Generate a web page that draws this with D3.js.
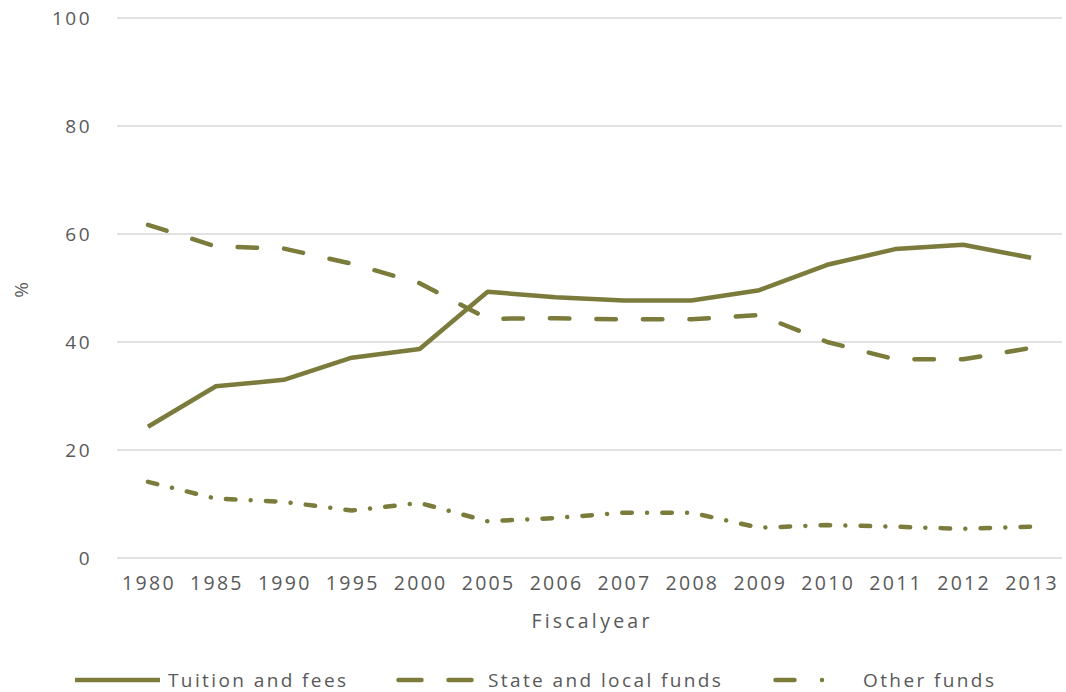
<!DOCTYPE html>
<html>
<head>
<meta charset="utf-8">
<script src="https://cdn.jsdelivr.net/npm/d3@7"></script>
<style>
  body { margin: 0; background: #fff; }
  text { font-family: "Open Sans", sans-serif; fill: #595959; }
</style>
</head>
<body>
<div id="chart"></div>
<script>
// fiscal years and share of revenue (%)
var years = ["1980","1985","1990","1995","2000","2005","2006","2007","2008","2009","2010","2011","2012","2013"];
var tuition = [24.3, 31.8, 33.0, 37.1, 38.7, 49.3, 48.3, 47.7, 47.7, 49.6, 54.3, 57.2, 58.0, 55.6];
var stateLocal = [61.7, 57.7, 57.3, 54.5, 50.9, 44.3, 44.4, 44.2, 44.2, 45.0, 40.0, 36.8, 36.8, 38.9];
var otherFunds = [14.1, 11.0, 10.4, 8.8, 10.2, 6.8, 7.4, 8.4, 8.4, 5.6, 6.1, 5.8, 5.4, 5.8];
var seriesNames = ["Tuition and fees", "State and local funds", "Other funds"];
var yTicks = [0, 20, 40, 60, 80, 100];

(function () {
  var width = 1066, height = 692;
  var plotLeft = 117, plotRight = 1062, plotTop = 18, plotBottom = 558;
  var color = "#7b7b3c";

  // line dash styles: chart and legend swatch
  var dashes = [null, "19.5,27", "9.5,15.25,0.01,15.25"];
  var legendDashes = [null, "23,27", "19,27.5,0.01,60"];
  var series = [tuition, stateLocal, otherFunds].map(function (v, i) {
    return {name: seriesNames[i], values: v, dash: dashes[i], legendDash: legendDashes[i]};
  });

  var svg = d3.select("#chart").append("svg")
    .attr("width", width).attr("height", height);

  var x = d3.scaleBand().domain(years).range([114, 1065]);
  var y = d3.scaleLinear().domain([0, 100]).range([plotBottom, plotTop]);

  // gridlines
  svg.append("g").selectAll("line").data(yTicks).enter().append("line")
    .attr("x1", plotLeft).attr("x2", plotRight)
    .attr("y1", function (d) { return y(d); })
    .attr("y2", function (d) { return y(d); })
    .attr("stroke", "#d9d9d9").attr("stroke-width", 1.3);

  // y tick labels
  svg.append("g").selectAll("text").data(yTicks).enter().append("text")
    .attr("x", 92).attr("y", function (d) { return y(d); })
    .attr("dy", "0.35em").attr("text-anchor", "end")
    .attr("font-size", 19).style("letter-spacing", "2.5px")
    .text(function (d) { return d; });

  // x tick labels
  svg.append("g").selectAll("text").data(years).enter().append("text")
    .attr("x", function (d) { return x(d) + x.bandwidth() / 2 + 1; })
    .attr("y", 590).attr("text-anchor", "middle")
    .attr("font-size", 19.5).style("letter-spacing", "2.3px")
    .text(function (d) { return d; });

  svg.append("text").attr("x", 592).attr("y", 628)
    .attr("text-anchor", "middle").attr("font-size", 19.5)
    .style("letter-spacing", "3.2px").style("word-spacing", "-8px")
    .text("Fiscal year");

  svg.append("text")
    .attr("transform", "translate(28,290) rotate(-90)")
    .attr("text-anchor", "middle").attr("font-size", 19).text("%");

  var line = d3.line()
    .x(function (d, i) { return x(years[i]) + x.bandwidth() / 2; })
    .y(function (d) { return y(d); });

  series.forEach(function (s) {
    svg.append("path").datum(s.values)
      .attr("d", line)
      .attr("fill", "none").attr("stroke", color)
      .attr("stroke-width", 4.5)
      .attr("stroke-linecap", s.dash ? "round" : "butt")
      .attr("stroke-linejoin", "round")
      .attr("stroke-dasharray", s.dash);
  });

  // legend
  var legendX = [75, 398.5, 775.5];
  var legendLen = [85, 73, 48];
  var textX = [93, 89.5, 87.5];
  var legend = svg.append("g").selectAll("g").data(series).enter().append("g")
    .attr("transform", function (d, i) { return "translate(" + legendX[i] + ",680)"; });
  legend.append("line")
    .attr("x1", 0)
    .attr("x2", function (d, i) { return legendLen[i]; })
    .attr("stroke", color).attr("stroke-width", 4.5)
    .attr("stroke-linecap", function (d) { return d.dash ? "round" : "butt"; })
    .attr("stroke-dasharray", function (d) { return d.legendDash; });
  legend.append("text")
    .attr("x", function (d, i) { return textX[i]; })
    .attr("dy", "0.35em").attr("font-size", 19)
    .style("letter-spacing", "2.4px")
    .text(function (d) { return d.name; });
})();
</script>
</body>
</html>
